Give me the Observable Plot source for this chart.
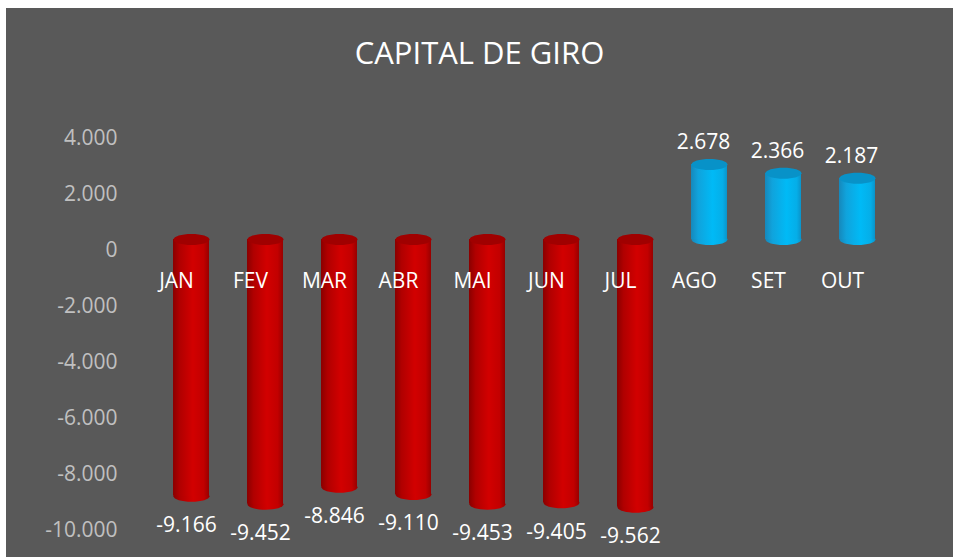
<!DOCTYPE html>
<html><head><meta charset="utf-8">
<script src="https://cdn.jsdelivr.net/npm/d3@7"></script>
<script src="https://cdn.jsdelivr.net/npm/@observablehq/plot@0.6"></script>
<style>
html,body{margin:0;padding:0;background:#fff;}
#panel{position:absolute;left:6px;top:8px;width:947px;height:549px;background:#595959;overflow:hidden;font-family:"Open Sans",sans-serif;}
#title{height:72px;box-sizing:border-box;padding-top:27px;text-align:center;color:#fff;font-size:31px;line-height:34px;}
#chart svg{display:block;}
</style></head><body>
<div id="panel"><div id="title">CAPITAL DE GIRO</div><div id="chart"></div></div>
<script>
const months = ["JAN","FEV","MAR","ABR","MAI","JUN","JUL","AGO","SET","OUT"];
const values = [-9166,-9452,-8846,-9110,-9453,-9405,-9562,2678,2366,2187];
const yTicks = [4000,2000,0,-2000,-4000,-6000,-8000,-10000];

const data = months.map((m,i)=>({month:m, value:values[i]}));
const neg = data.filter(d=>d.value<0), pos = data.filter(d=>d.value>=0);
const loc = d3.formatLocale({decimal:",",thousands:".",grouping:[3],currency:["R$ ",""],minus:"-"});
const fmt = loc.format(",d");

const ellipse = {draw(ctx){
  const rx=18, ry=5.5, k=0.5523;
  ctx.moveTo(-rx,0);
  ctx.bezierCurveTo(-rx,-ry*k,-rx*k,-ry,0,-ry);
  ctx.bezierCurveTo(rx*k,-ry,rx,-ry*k,rx,0);
  ctx.bezierCurveTo(rx,ry*k,rx*k,ry,0,ry);
  ctx.bezierCurveTo(-rx*k,ry,-rx,ry*k,-rx,0);
  ctx.closePath();
}};

function defs(){
  const ns="http://www.w3.org/2000/svg";
  const g=document.createElementNS(ns,"defs");
  g.innerHTML = `
  <linearGradient id="gRed" x1="0" x2="1" y1="0" y2="0">
    <stop offset="0" stop-color="#8a0000"/>
    <stop offset="0.18" stop-color="#b00000"/>
    <stop offset="0.55" stop-color="#d20000"/>
    <stop offset="0.85" stop-color="#c20000"/>
    <stop offset="1" stop-color="#980000"/>
  </linearGradient>
  <linearGradient id="gBlue" x1="0" x2="1" y1="0" y2="0">
    <stop offset="0" stop-color="#1688bb"/>
    <stop offset="0.2" stop-color="#10a3dc"/>
    <stop offset="0.6" stop-color="#00baf6"/>
    <stop offset="0.88" stop-color="#05aee8"/>
    <stop offset="1" stop-color="#0a94ca"/>
  </linearGradient>`;
  return g;
}

const lift = -11;
const chart = Plot.plot({
  width: 947, height: 477,
  marginLeft: 148, marginRight: 59, marginTop: 58, marginBottom: 27,
  style: {background: "transparent", fontFamily: "'Open Sans', sans-serif", color: "#bdbdbd"},
  x: {domain: months, axis: null, round: false, paddingInner: 0.5135, paddingOuter: 0.2568},
  y: {domain: [-10000, 4000]},
  marks: [
    defs,
    Plot.axisY(yTicks, {tickSize: 0, tickPadding: 37, tickFormat: fmt, fontSize: 21, fill: "#c0c0c0", label: null}),
    // bottom caps
    Plot.dot(neg, {x: "month", y: d => d.value, symbol: ellipse, r: 1, fill: "url(#gRed)", stroke: "none", dy: lift}),
    Plot.dot(pos, {x: "month", y: d => 0, symbol: ellipse, r: 1, fill: "url(#gBlue)", stroke: "none", dy: lift}),
    // bodies
    Plot.barY(neg, {x: "month", y: "value", fill: "url(#gRed)", dy: lift}),
    Plot.barY(pos, {x: "month", y: "value", fill: "url(#gBlue)", dy: lift}),
    // top caps
    Plot.dot(neg, {x: "month", y: d => 0, symbol: ellipse, r: 1, fill: "#a00000", stroke: "none", dy: lift}),
    Plot.dot(pos, {x: "month", y: d => d.value, symbol: ellipse, r: 1, fill: "#0892c8", stroke: "none", dy: lift}),
    // category labels
    Plot.text(data, {x: "month", y: d => 0, text: "month", dy: 31, dx: -15, fill: "#ffffff", fontSize: 21}),
    // value labels
    Plot.text(neg, {x: "month", y: "value", text: d => fmt(d.value), dy: 18, dx: -5, fill: "#ffffff", fontSize: 21}),
    Plot.text(pos, {x: "month", y: "value", text: d => fmt(d.value), dy: -33, dx: -6, fill: "#ffffff", fontSize: 21})
  ]
});
document.getElementById("chart").appendChild(chart);
</script>
</body></html>
